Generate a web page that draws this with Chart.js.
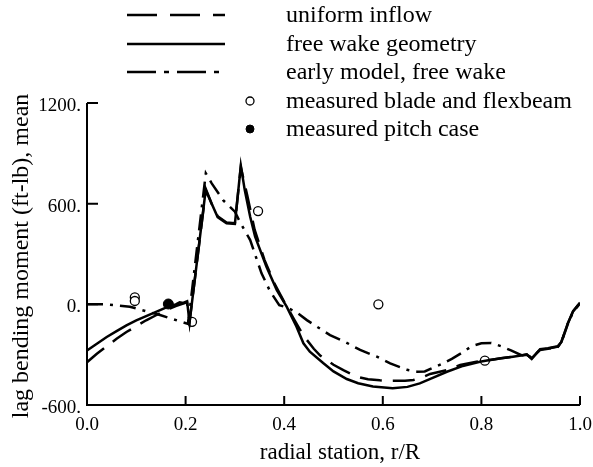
<!DOCTYPE html>
<html>
<head>
<meta charset="utf-8">
<script src="https://cdn.jsdelivr.net/npm/chart.js@4.4.1/dist/chart.umd.min.js"></script>
<style>
  html, body { margin: 0; padding: 0; background: #fff; }
  #wrap { width: 593px; height: 467px; position: relative; }
</style>
</head>
<body>
<div id="wrap"><canvas id="c"></canvas></div>
<script>
// Mean lag bending moment along the blade span.
const rUniform = [0, 0.02, 0.04, 0.06, 0.08, 0.10, 0.12, 0.14, 0.16, 0.18, 0.192, 0.203, 0.208, 0.241, 0.253, 0.265, 0.283, 0.300, 0.312, 0.325, 0.340, 0.360, 0.380, 0.400, 0.420, 0.440, 0.460, 0.473, 0.50, 0.52, 0.547, 0.57, 0.594, 0.62, 0.645, 0.662, 0.68, 0.696, 0.73, 0.757, 0.79, 0.81, 0.84, 0.864, 0.88, 0.892, 0.902, 0.919, 0.935, 0.955, 0.962, 0.975, 0.986, 1.0];
const mUniform = [-345, -295, -250, -205, -165, -130, -95, -65, -35, -10, 2, 12, -105, 680, 598, 525, 488, 484, 818, 650, 445, 265, 125, 15, -90, -190, -265, -305, -360, -392, -431, -447, -453, -456, -455, -451, -435, -415, -392, -362, -342, -335, -322, -312, -306, -300, -322, -270, -263, -252, -226, -117, -42, 8];

const rFreeWake = [0, 0.02, 0.04, 0.06, 0.08, 0.10, 0.12, 0.14, 0.16, 0.17, 0.18, 0.188, 0.195, 0.203, 0.208, 0.241, 0.253, 0.265, 0.283, 0.300, 0.312, 0.320, 0.331, 0.341, 0.364, 0.385, 0.405, 0.425, 0.439, 0.452, 0.479, 0.50, 0.527, 0.55, 0.58, 0.62, 0.65, 0.675, 0.70, 0.73, 0.76, 0.797, 0.817, 0.84, 0.864, 0.88, 0.892, 0.902, 0.919, 0.935, 0.955, 0.962, 0.975, 0.986, 1.0];
const mFreeWake = [-275, -235, -195, -160, -125, -95, -70, -45, -20, -8, 0, 12, 8, 18, -108, 687, 600, 520, 483, 479, 827, 681, 522, 403, 224, 85, -14, -133, -232, -282, -350, -400, -445, -470, -490, -500, -492, -471, -440, -402, -370, -342, -332, -322, -312, -305, -298, -325, -268, -262, -250, -225, -115, -40, 10];

const rEarly = [0, 0.04, 0.087, 0.148, 0.205, 0.241, 0.253, 0.276, 0.30, 0.31, 0.331, 0.354, 0.371, 0.39, 0.407, 0.428, 0.446, 0.462, 0.493, 0.523, 0.554, 0.588, 0.615, 0.651, 0.67, 0.685, 0.70, 0.72, 0.74, 0.76, 0.78, 0.80, 0.82, 0.84, 0.86, 0.88, 0.892, 0.902, 0.919, 0.935, 0.955, 0.962, 0.975, 0.986, 1.0];
const mEarly = [0, 0, -14, -64, -117, 781, 721, 621, 552, 492, 383, 185, 80, -5, -20, -54, -94, -125, -183, -223, -272, -312, -352, -392, -402, -400, -381, -355, -325, -290, -250, -232, -230, -250, -275, -302, -300, -318, -272, -265, -254, -228, -120, -45, 5];

const rMeasured = [0.097, 0.097, 0.213, 0.347, 0.591, 0.807];
const mMeasured = [42, 20, -104, 556, 0, -336];

const rPitch = [0.165];
const mPitch = [2];

const xTicks = [0, 0.2, 0.4, 0.6, 0.8, 1.0];
const yTicks = [-600, 0, 600, 1200];

const pts = (rs, ms) => rs.map((r, i) => ({ x: r, y: ms[i] }));

const FONT = '"Liberation Serif", "Times New Roman", serif';

const lineStyle = (label, r, m, dash) => ({
  label, data: pts(r, m), showLine: true, tension: 0,
  borderColor: '#000', borderWidth: 2.5, borderDash: dash,
  pointRadius: 0, pointHoverRadius: 0, fill: false
});

const datasets = [
  lineStyle('uniform inflow', rUniform, mUniform, [22, 11]),
  lineStyle('free wake geometry', rFreeWake, mFreeWake, []),
  lineStyle('early model, free wake', rEarly, mEarly, [16, 7, 3, 7]),
  { label: 'measured blade and flexbeam', data: pts(rMeasured, mMeasured), showLine: false,
    pointStyle: 'circle', pointRadius: 4.5, pointBorderWidth: 1.3,
    pointBorderColor: '#000', pointBackgroundColor: '#fff' },
  { label: 'measured pitch case', data: pts(rPitch, mPitch), showLine: false,
    pointStyle: 'circle', pointRadius: 5, pointBorderWidth: 1,
    pointBorderColor: '#000', pointBackgroundColor: '#000' }
];

// Axis frame with inward tick marks, axis titles and the key above the plot.
const framePlugin = {
  id: 'frame',
  afterDraw(chart) {
    const { ctx, chartArea: a, scales: { x, y } } = chart;
    ctx.save();
    ctx.strokeStyle = '#000';
    ctx.lineWidth = 2;
    ctx.setLineDash([]);
    ctx.beginPath();
    ctx.moveTo(a.left, a.top);
    ctx.lineTo(a.left, a.bottom);
    ctx.lineTo(a.right, a.bottom);
    xTicks.forEach(v => {
      const px = x.getPixelForValue(v);
      ctx.moveTo(px, a.bottom);
      ctx.lineTo(px, a.bottom - 9);
    });
    yTicks.forEach(v => {
      const py = y.getPixelForValue(v);
      ctx.moveTo(a.left, py);
      ctx.lineTo(a.left + 11, py);
    });
    ctx.stroke();

    ctx.fillStyle = '#000';
    ctx.textAlign = 'center';
    ctx.textBaseline = 'middle';
    ctx.font = '23px ' + FONT;
    ctx.fillText('radial station, r/R', 340, 453);
    ctx.font = '24px ' + FONT;
    ctx.save();
    ctx.translate(22, 256);
    ctx.rotate(-Math.PI / 2);
    ctx.fillText('lag bending moment (ft-lb), mean', 0, 0);
    ctx.restore();

    // key
    const rows = [15, 44, 72, 101, 129];
    ctx.textAlign = 'left';
    chart.data.datasets.forEach((ds, i) => {
      const yy = rows[i];
      if (ds.showLine) {
        ctx.lineWidth = 2.5;
        const dash = i === 0 ? [30, 13] : (i === 2 ? [29, 8, 5, 8] : []);
        ctx.setLineDash(dash);
        ctx.beginPath();
        ctx.moveTo(127, yy);
        ctx.lineTo(225, yy);
        ctx.stroke();
        ctx.setLineDash([]);
      } else {
        ctx.lineWidth = ds.pointBorderWidth;
        ctx.beginPath();
        ctx.arc(250, yy, 4, 0, Math.PI * 2);
        ctx.fillStyle = ds.pointBackgroundColor;
        ctx.fill();
        ctx.stroke();
      }
      ctx.fillStyle = '#000';
      ctx.fillText(ds.label, 286, yy + 1);
    });
    ctx.restore();
  }
};

new Chart(document.getElementById('c'), {
  type: 'scatter',
  data: { datasets },
  options: {
    responsive: true,
    maintainAspectRatio: false,
    devicePixelRatio: 1,
    animation: false,
    layout: { padding: { left: 0, top: 103, right: 13, bottom: 0 } },
    plugins: { legend: { display: false }, tooltip: { enabled: false } },
    scales: {
      x: {
        type: 'linear', min: 0, max: 1,
        grid: { display: false, drawTicks: false },
        border: { display: false },
        afterFit: s => { s.height = 62; s.paddingLeft = 0; s.paddingRight = 0; },
        afterBuildTicks: s => { s.ticks = xTicks.map(v => ({ value: v })); },
        ticks: {
          padding: 9, color: '#000', maxRotation: 0,
          font: { family: FONT, size: 19 },
          callback: v => Number(v).toFixed(1)
        }
      },
      y: {
        type: 'linear', min: -600, max: 1200,
        grid: { display: false, drawTicks: false },
        border: { display: false },
        afterFit: s => { s.width = 87; s.paddingTop = 0; s.paddingBottom = 0; },
        afterBuildTicks: s => { s.ticks = yTicks.map(v => ({ value: v })); },
        ticks: {
          padding: 6, color: '#000', labelOffset: 3,
          font: { family: FONT, size: 19 },
          callback: v => v + '.'
        }
      }
    }
  },
  plugins: [framePlugin]
});
</script>
</body>
</html>
